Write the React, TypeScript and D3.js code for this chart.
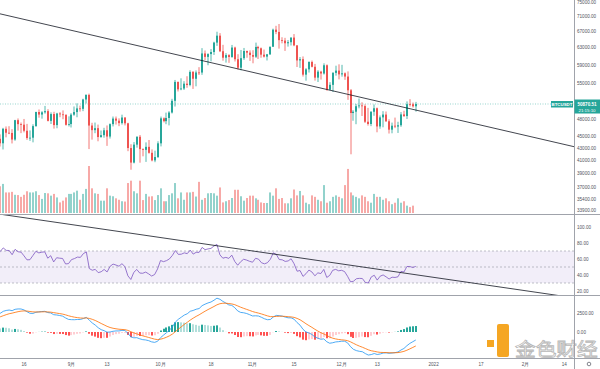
import { useEffect, useRef } from 'react'
import * as d3 from 'd3'

// daily BTCUSDT candles, 2021-08-07 .. 2021-12-26
const startDate = Date.UTC(2021, 7, 7)
const warmupCloses = [33541, 33811, 34669, 35287, 33690, 34220, 33863, 32875, 33815, 33502, 34259, 33086, 32730, 32820, 31880, 31383, 31520, 31778, 30839, 29791, 32144, 32287, 33634, 34258, 35382, 37267, 39458, 40019, 40016, 42207, 41462, 39846, 39147, 38208, 39723, 40862, 42816]
const closes = [
  44555, 43798, 46285, 45595, 45555, 44428, 47834, 47113, 47015, 45937, 44686, 44742, 46760, 49340, 48867, 49285, 49507, 47706, 48960, 46942, 49058, 48903, 48811, 46991, 47129,
  48847, 49327, 50025, 49944, 51753, 52663, 46863, 46049, 46395, 44851, 45174, 46026, 44940, 47111, 48122, 47737, 47300, 48314, 47261, 43012, 40694, 43574, 44896, 42840, 42716, 43208, 42235, 41034, 41564, 43790,
  48165, 47657, 48233, 49245, 51493, 55339, 53797, 53963, 54963, 54691, 57485, 56006, 57367, 57347, 61672, 60875, 61528, 62010, 64280, 66002, 62193, 60688, 61286, 60852, 63078, 60328, 58413, 60575, 62253, 61859, 61299,
  60911, 63219, 62896, 61395, 60937, 61470, 63273, 67525, 66947, 64882, 64774, 64122, 64380, 65519, 63606, 60058, 60344, 56891, 58052, 59707, 58622, 56247, 57541, 57138, 58960, 53726, 54721, 57274, 57776, 56950,
  57184, 56480, 53601, 49152, 49396, 50441, 50588, 50471, 47545, 47140, 49389, 50053, 46702, 48343, 48864, 47632, 46131, 46834, 46681, 46914, 48889, 48589, 50838, 50821, 50429, 50870.51,
]
const highs = [
  44700, 45310, 46454, 46700, 46743, 46218, 47886, 48144, 47400, 48053, 47160, 46000, 47088, 49400, 49821, 49500, 50500, 49876, 49277, 49380, 49188, 49309, 49645, 48912, 48531,
  49125, 50392, 51000, 50558, 51900, 52780, 52920, 47360, 47399, 47033, 45989, 46460, 46876, 47250, 48500, 48500, 48160, 48843, 48366, 47358, 43639, 44000, 44978, 45200, 42963, 43950, 44350, 42787, 42590, 44141,
  48495, 48336, 49228, 49500, 51886, 55750, 55400, 56100, 55489, 56545, 57839, 57680, 57804, 58532, 62933, 62378, 61718, 62695, 64487, 67000, 66639, 63732, 61747, 61500, 63710, 63293, 61496, 62499, 62980, 62359, 62405,
  62437, 64270, 63500, 63086, 62595, 61560, 63286, 67789, 68524, 69000, 65600, 65450, 64915, 65550, 66401, 63617, 60840, 60976, 58320, 59845, 60029, 59266, 57875, 57735, 59398, 59150, 55280, 57445, 58865, 59175,
  59053, 57375, 57600, 53859, 49699, 50891, 51936, 51200, 50797, 50125, 49485, 50782, 50189, 48700, 49500, 49436, 47995, 47392, 48300, 47537, 49328, 49576, 51375, 51810, 51156, 51280,
]
const lows = [
  42446, 43261, 42779, 44800, 45350, 43770, 44217, 45971, 45520, 45660, 44376, 44203, 43955, 46650, 48285, 48102, 49030, 47600, 47137, 46316, 46377, 48370, 48005, 46850, 46696,
  46513, 48632, 48361, 49412, 49500, 50969, 42843, 44412, 45514, 44132, 44730, 44742, 43370, 44594, 46700, 47035, 46751, 47033, 46881, 42500, 39600, 40565, 43069, 40675, 41675, 40800, 42098, 40888, 40753, 41410,
  43283, 47430, 47100, 46891, 49057, 50382, 53357, 53617, 53661, 54112, 54416, 53879, 54415, 56818, 56850, 60150, 58963, 59844, 61322, 63481, 62000, 60000, 59562, 59510, 60650, 59817, 58000, 57820, 60174, 60673, 59945,
  59405, 60624, 60382, 60677, 60721, 60050, 61322, 63273, 66382, 62822, 64100, 62278, 63303, 63576, 63400, 58574, 58373, 56474, 55600, 57353, 58487, 55610, 55317, 55837, 56906, 53500, 53610, 53256, 56666, 55875,
  56458, 55777, 51680, 42000, 47727, 47100, 50039, 48600, 47320, 46852, 46751, 48638, 45672, 46290, 46547, 47511, 45456, 45500, 46406, 45558, 46630, 48421, 48046, 50384, 50181, 49412,
]
// volume in thousand BTC
const volumes = [
  88, 91, 99, 70, 70, 72, 62, 61, 55, 62, 74, 70, 70, 74, 61, 48, 68, 67, 59, 65, 53, 36, 42, 53, 65,
  65, 70, 76, 45, 65, 82, 160, 84, 67, 65, 42, 42, 84, 59, 57, 50, 45, 40, 39, 102, 110, 74, 67, 110, 44, 65, 56, 57, 44, 61,
  84, 40, 40, 61, 67, 102, 50, 70, 45, 70, 70, 72, 56, 106, 45, 51, 67, 68, 67, 59, 87, 36, 40, 44, 51, 79, 79, 57, 42, 51,
  59, 59, 50, 45, 36, 34, 34, 70, 59, 84, 48, 51, 33, 33, 50, 80, 60, 75, 60, 35, 30, 60, 55, 45, 40, 95, 35, 40, 55, 60,
  55, 50, 95, 150, 70, 60, 55, 50, 60, 55, 40, 35, 65, 55, 55, 45, 50, 40, 30, 35, 50, 35, 40, 25, 20, 25,
]

const priceTicks = [75000, 71000, 67000, 63000, 59000, 55000, 48000, 45000, 43000, 41000, 39000, 37000, 35400, 33900]
const rsiTicks = [100, 80, 60, 40, 20]
const rsiBands = [70, 50, 30]
const macdTicks = [2500, 0]
const timeTicks: [string, string][] = [
  ['2021-08-16', '16'], ['2021-09-01', '9月'], ['2021-09-13', '13'], ['2021-10-01', '10月'], ['2021-10-18', '18'],
  ['2021-11-01', '11月'], ['2021-11-15', '15'], ['2021-12-01', '12月'], ['2021-12-13', '13'], ['2022-01-01', '2022'],
  ['2022-01-17', '17'], ['2022-02-01', '2月'], ['2022-02-14', '14'],
]
// hand-drawn trend lines (date, value)
const priceTrend: [string, number][] = [['2021-09-28', 62750], ['2022-02-17', 43270]]
const rsiTrend: [string, number][] = [['2021-08-08', 116], ['2022-02-09', 16]]

const UP = '#26a69a'
const DOWN = '#ef5350'
const FONT = 'Liberation Sans, Arial, sans-serif'

function rsiCalc(v: number[], len = 14) {
  const out: (number | null)[] = v.map(() => null)
  let ag = 0, al = 0
  for (let i = 1; i <= len; i++) {
    const d = v[i] - v[i - 1]
    ag += Math.max(d, 0); al += Math.max(-d, 0)
  }
  ag /= len; al /= len
  out[len] = 100 - 100 / (1 + ag / al)
  for (let i = len + 1; i < v.length; i++) {
    const d = v[i] - v[i - 1]
    ag = (ag * (len - 1) + Math.max(d, 0)) / len
    al = (al * (len - 1) + Math.max(-d, 0)) / len
    out[i] = al === 0 ? 100 : 100 - 100 / (1 + ag / al)
  }
  return out
}

function ema(v: (number | null)[], len: number) {
  const out: (number | null)[] = v.map(() => null)
  const k = 2 / (len + 1)
  const start = v.findIndex(d => d != null)
  let prev = d3.mean(v.slice(start, start + len) as number[]) as number
  out[start + len - 1] = prev
  for (let i = start + len; i < v.length; i++) {
    prev = (v[i] as number) * k + prev * (1 - k)
    out[i] = prev
  }
  return out
}

export default function App() {
  const svgRef = useRef<SVGSVGElement>(null)

  useEffect(() => {
    const svg = d3.select(svgRef.current)
    svg.selectAll('*').remove()

    const W = 600, H = 369, AX = 574
    const day = (s: string) => new Date(s + 'T00:00:00Z')

    const all = warmupCloses.concat(closes)
    const n0 = warmupCloses.length
    const rsiAll = rsiCalc(all)
    const e12 = ema(all, 12), e26 = ema(all, 26)
    const macdAll = all.map((_, i) => (e12[i] != null && e26[i] != null ? (e12[i] as number) - (e26[i] as number) : null))
    const sigAll = ema(macdAll, 9)

    const data = closes.map((c, i) => ({
      date: new Date(startDate + i * 864e5),
      open: all[n0 + i - 1],
      high: highs[i],
      low: lows[i],
      close: c,
      vol: volumes[i],
      rsi: rsiAll[n0 + i] as number,
      macd: macdAll[n0 + i] as number,
      signal: sigAll[n0 + i] as number,
      hist: (macdAll[n0 + i] as number) - (sigAll[n0 + i] as number),
      prevHist: (macdAll[n0 + i - 1] as number) - (sigAll[n0 + i - 1] as number),
    }))

    const x = d3.scaleUtc().domain([day('2021-08-16'), day('2021-09-07')]).range([24, 89.3])
    const y = d3.scaleLog().domain([50870.51, 69000]).range([104, 24])
    const yVol = d3.scaleLinear().domain([0, 160]).range([213, 166])
    const yRsi = d3.scaleLinear().domain([100, 20]).range([227, 291])
    const yMacd = d3.scaleLinear().domain([0, 2500]).range([332, 313])

    svg.append('rect').attr('width', W).attr('height', H).attr('fill', '#fff')

    const defs = svg.append('defs')
    const clip = (id: string, y0: number, h: number) =>
      defs.append('clipPath').attr('id', id).append('rect').attr('x', 0).attr('y', y0).attr('width', AX).attr('height', h)
    clip('cMain', 0, 214)
    clip('cRsi', 215, 80)
    clip('cMacd', 296, 62)

    // watermark
    const wm = svg.append('g')
    wm.append('rect').attr('x', 487).attr('y', 340).attr('width', 7).attr('height', 7).attr('fill', '#f5a623')
    wm.append('rect').attr('x', 497).attr('y', 324).attr('width', 12).attr('height', 33).attr('rx', 2).attr('fill', '#f5a623')
    wm.append('text').attr('transform', 'translate(515,355.5) scale(1.15,1)')
      .attr('font-family', 'Noto Sans CJK SC').attr('font-size', 18)
      .attr('fill', '#fff').attr('stroke', '#b7b7b7').attr('stroke-width', 0.8).text('金色财经')

    // ---- main pane
    const main = svg.append('g').attr('clip-path', 'url(#cMain)')
    main.append('line').attr('x1', 0).attr('x2', AX).attr('y1', y(50870.51)).attr('y2', y(50870.51))
      .attr('stroke', UP).attr('stroke-opacity', 0.6).attr('stroke-dasharray', '1,1.5').attr('stroke-width', 0.8)

    main.selectAll('.vol').data(data).join('rect')
      .attr('x', d => Math.round(x(d.date)) - 1)
      .attr('y', d => yVol(d.vol))
      .attr('width', 2)
      .attr('height', d => yVol(0) - yVol(d.vol))
      .attr('fill', d => (d.close >= d.open ? UP : DOWN))
      .attr('fill-opacity', 0.5)

    main.selectAll('.wick').data(data).join('line')
      .attr('x1', d => Math.round(x(d.date)))
      .attr('x2', d => Math.round(x(d.date)))
      .attr('y1', d => y(d.high))
      .attr('y2', d => y(d.low))
      .attr('stroke', d => (d.close >= d.open ? UP : DOWN))
      .attr('stroke-width', 0.8)

    main.selectAll('.body').data(data).join('rect')
      .attr('x', d => Math.round(x(d.date)) - 1)
      .attr('y', d => Math.min(y(d.open), y(d.close)))
      .attr('width', 2)
      .attr('height', d => Math.max(0.8, Math.abs(y(d.open) - y(d.close))))
      .attr('fill', d => (d.close >= d.open ? UP : DOWN))

    const trendPath = (pts: [string, number][], ys: (v: number) => number) => {
      const [a, b] = pts.map(p => [x(day(p[0])), ys(p[1])])
      const k = (b[1] - a[1]) / (b[0] - a[0])
      return `M0,${a[1] - k * a[0]}L${AX},${a[1] + k * (AX - a[0])}`
    }
    main.append('path').attr('d', trendPath(priceTrend, y)).attr('stroke', '#131722').attr('stroke-width', 0.8).attr('fill', 'none')

    // ---- RSI pane
    const rp = svg.append('g').attr('clip-path', 'url(#cRsi)')
    rp.append('rect').attr('x', 0).attr('width', AX).attr('y', yRsi(70)).attr('height', yRsi(30) - yRsi(70))
      .attr('fill', '#7e57c2').attr('fill-opacity', 0.1)
    rsiBands.forEach(b => {
      rp.append('line').attr('x1', 0).attr('x2', AX).attr('y1', yRsi(b)).attr('y2', yRsi(b))
        .attr('stroke', '#9598a1').attr('stroke-width', 0.6).attr('stroke-dasharray', '2,2')
    })
    rp.append('path').datum(data)
      .attr('d', d3.line<any>().x(d => x(d.date)).y(d => yRsi(d.rsi)))
      .attr('fill', 'none').attr('stroke', '#7e57c2').attr('stroke-width', 0.8)
    rp.append('path').attr('d', trendPath(rsiTrend, yRsi)).attr('stroke', '#131722').attr('stroke-width', 0.8).attr('fill', 'none')

    // ---- MACD pane
    const mp = svg.append('g').attr('clip-path', 'url(#cMacd)')
    mp.selectAll('.hist').data(data).join('rect')
      .attr('x', d => Math.round(x(d.date)) - 1)
      .attr('width', 2)
      .attr('y', d => Math.min(yMacd(d.hist), yMacd(0)))
      .attr('height', d => Math.abs(yMacd(d.hist) - yMacd(0)))
      .attr('fill', d => d.hist >= 0 ? (d.hist > d.prevHist ? '#26a69a' : '#b2dfdb') : (d.hist < d.prevHist ? '#ff5252' : '#ffcdd2'))
    mp.append('path').datum(data)
      .attr('d', d3.line<any>().x(d => x(d.date)).y(d => yMacd(d.macd)))
      .attr('fill', 'none').attr('stroke', '#2196f3').attr('stroke-width', 0.8)
    mp.append('path').datum(data)
      .attr('d', d3.line<any>().x(d => x(d.date)).y(d => yMacd(d.signal)))
      .attr('fill', 'none').attr('stroke', '#ff6d00').attr('stroke-width', 0.8)

    // ---- separators
    const sep = '#a0a3ab'
    ;[214.5, 295.5, 358.5].forEach(v => {
      svg.append('line').attr('x1', 0).attr('x2', W).attr('y1', v).attr('y2', v).attr('stroke', sep).attr('stroke-width', 1)
    })
    svg.append('line').attr('x1', AX + 0.5).attr('x2', AX + 0.5).attr('y1', 0).attr('y2', H).attr('stroke', sep)

    // ---- axis labels
    const lab = (g: d3.Selection<any, any, any, any>, ticks: number[], ys: (v: number) => number, y0: number, y1: number) => {
      ticks.filter(t => ys(t) > y0 && ys(t) < y1).forEach(t => {
        g.append('text').attr('x', AX + 3).attr('y', ys(t)).attr('dy', '0.35em')
          .attr('font-family', FONT).attr('font-size', 4.6).attr('fill', '#50535e').text(t.toFixed(2))
      })
    }
    const axg = svg.append('g')
    lab(axg, priceTicks, y, -2, 214)
    lab(axg, rsiTicks, yRsi, 215, 295)
    lab(axg, macdTicks, yMacd, 296, 358)

    timeTicks.forEach(([d, t]) => {
      svg.append('text').attr('x', x(day(d))).attr('y', 365.5).attr('text-anchor', 'middle')
        .attr('font-family', FONT).attr('font-size', 4.6).attr('fill', '#50535e').text(t)
    })
    svg.append('circle').attr('cx', 589).attr('cy', 364).attr('r', 1.8).attr('fill', 'none').attr('stroke', '#50535e').attr('stroke-width', 0.7)

    // ---- last price labels
    svg.append('rect').attr('x', 551).attr('y', 101).attr('width', 22).attr('height', 6.5).attr('fill', UP)
    svg.append('text').attr('x', 562).attr('y', 104.4).attr('dy', '0.35em').attr('text-anchor', 'middle')
      .attr('font-family', FONT).attr('font-size', 4.4).attr('font-weight', 'bold').attr('fill', '#fff').text('BTCUSDT')
    svg.append('rect').attr('x', AX + 0.5).attr('y', 99.5).attr('width', 25.5).attr('height', 14).attr('fill', UP)
    svg.append('text').attr('x', AX + 13).attr('y', 104).attr('dy', '0.35em').attr('text-anchor', 'middle')
      .attr('font-family', FONT).attr('font-size', 4.6).attr('font-weight', 'bold').attr('fill', '#fff').text('50870.51')
    svg.append('text').attr('x', AX + 13).attr('y', 110).attr('dy', '0.35em').attr('text-anchor', 'middle')
      .attr('font-family', FONT).attr('font-size', 4.4).attr('fill', '#fff').text('21:15:10')
  }, [])

  return (
    <svg ref={svgRef} width={600} height={369} style={{ position: 'absolute', left: 0, top: 0 }} />
  )
}
